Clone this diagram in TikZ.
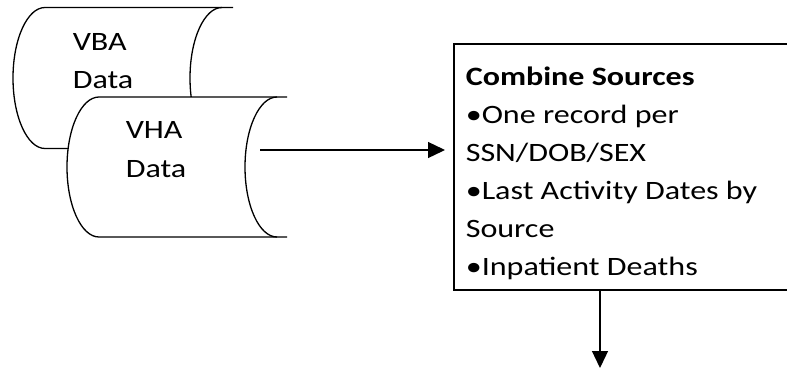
\documentclass[tikz,border=0pt]{standalone}
\usepackage{fontspec}
\setmainfont{Carlito}
\usetikzlibrary{arrows.meta}
\begin{document}
\begin{tikzpicture}[x=1pt,y=-1pt,
  line width=1.3pt,
  txt/.style={anchor=base west,inner sep=0pt,xscale=1.21,transform shape,font=\fontsize{26.5}{38}\selectfont},
  arr/.style={-{Triangle[length=17pt,width=16pt]}}]
\useasboundingbox (0,0) rectangle (787,370);
% VBA cylinder
\fill[white] (45,7.5) -- (233,7.5) -- (233,148.5) -- (45,148.5) .. controls (27.3,148.5) and (13,116.9) .. (13,78) .. controls (13,39.1) and (27.3,7.5) .. (45,7.5) -- cycle;
\draw (233,7.5) -- (45,7.5) .. controls (27.3,7.5) and (13,39.1) .. (13,78) .. controls (13,116.9) and (27.3,148.5) .. (45,148.5) -- (233,148.5);
\draw (222,7.5) .. controls (204.3,7.5) and (190,39.1) .. (190,78) .. controls (190,116.9) and (204.3,148.5) .. (222,148.5);
% VHA cylinder
\fill[white] (99,97) -- (287,97) -- (287,237) -- (99,237) .. controls (81.3,237) and (67,205.7) .. (67,167) .. controls (67,128.3) and (81.3,97) .. (99,97) -- cycle;
\draw (287,97) -- (99,97) .. controls (81.3,97) and (67,128.3) .. (67,167) .. controls (67,205.7) and (81.3,237) .. (99,237) -- (287,237);
\draw (277,97) .. controls (259.3,97) and (245,128.3) .. (245,167) .. controls (245,205.7) and (259.3,237) .. (277,237);
\node[txt] (vba1) at (72,50) {VBA};
\node[txt] (vba2) at (72,88) {Data};
\node[txt] (vha1) at (125,138) {VHA};
\node[txt] (vha2) at (125,177) {Data};
% box (its right side lies beyond the picture)
\coordinate (boxnw) at (454,44);
\coordinate (boxsw) at (454,290);
\coordinate (boxne) at (787,44);
\coordinate (boxse) at (787,290);
\draw (boxne) -- (boxnw) -- (boxsw) -- (boxse);
\node[txt,font=\fontsize{26.5}{38}\selectfont\bfseries] (t1) at (465,85) {Combine Sources};
\node[txt] (t2) at (465,123) {•One record per};
\node[txt] (t3) at (465,161) {SSN/DOB/SEX};
\node[txt] (t4) at (465,199) {•Last Activity Dates by};
\node[txt] (t5) at (465,237) {Source};
\node[txt] (t6) at (465,275) {•Inpatient Deaths};
% arrows
\coordinate (vhaout) at (260,150);
\coordinate (down) at (600,368);
\draw[arr] (vhaout) -- ([xshift=-9pt]vhaout -| boxnw);
\draw[arr] (down |- boxsw) -- (down);
\end{tikzpicture}
\end{document}
